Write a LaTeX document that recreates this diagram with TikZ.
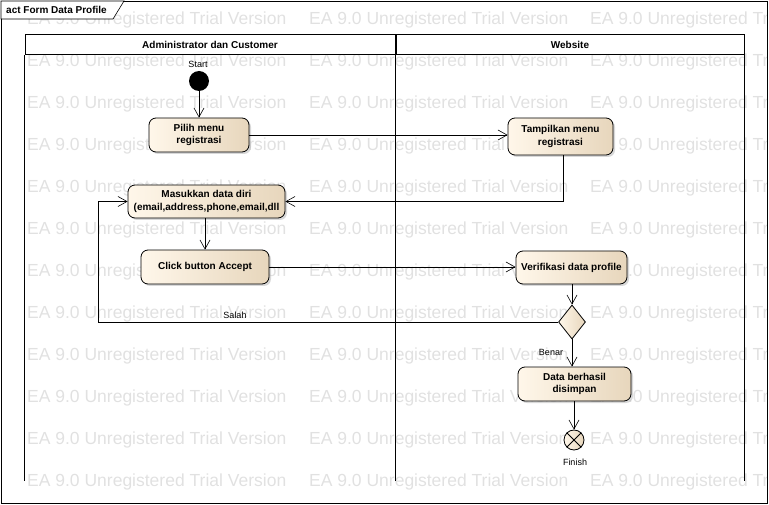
\documentclass[tikz,border=0pt]{standalone}
\usepackage{fontspec}
\setmainfont{Liberation Sans}
\usetikzlibrary{arrows.meta,shapes.geometric,shadows}

\definecolor{actlight}{RGB}{255,247,234}
\definecolor{actdark}{RGB}{231,214,188}
\definecolor{wmgray}{RGB}{225,225,225}

\tikzset{
  action/.style={draw, line width=0.8pt, rounded corners=7pt, align=center,
    inner sep=0pt, font=\fontsize{10}{12.5}\selectfont\bfseries,
    left color=actlight, right color=actdark,
    drop shadow={shadow xshift=2pt, shadow yshift=-2pt, fill=black!30}},
  flow/.style={-{Straight Barb[length=9pt,width=10pt]}, line width=0.6pt},
  lbl/.style={font=\fontsize{9}{10}\selectfont, inner sep=1pt},
  lanehead/.style={draw, line width=1pt, fill=white, inner sep=0pt,
    font=\fontsize{10}{12}\selectfont\bfseries},
  watermark/.style={text=wmgray, anchor=west, inner sep=0pt,
    font=\fontsize{17.5}{20}\selectfont},
}

\begin{document}
\begin{tikzpicture}[x=1pt,y=-1pt]
  \useasboundingbox (0,0) rectangle (769,505);

  % Drawing watermark
  \begin{scope}
    \clip (1,1) rectangle (767,503);
    \foreach \wy in {20,62,...,482}
      \foreach \wx in {27,309,590}
        \node[watermark] (wm-\wx-\wy) at (\wx,\wy) {EA 9.0 Unregistered Trial Version};
  \end{scope}

  % Drawing frame
  \draw [line width=0.8pt] (1,1) rectangle (767,503);
  \draw [line width=0.6pt, fill=white] (1,1) -- (124,1) -- (113,19) -- (1,19) -- cycle;
  \node [anchor=west, inner sep=0pt, font=\fontsize{10}{12}\selectfont\bfseries]
    (title) at (6,10) {act Form Data Profile};

  % Drawing lanes
  \node [lanehead, minimum width=370pt, minimum height=20pt] (admin) at (210,45)
    {Administrator dan Customer};
  \node [lanehead, minimum width=348pt, minimum height=20pt] (web) at (570,45)
    {Website};
  \draw [line width=1pt] (admin.south west) -- ++(0,425);
  \draw [line width=1pt] (web.south west) -- ++(0,425);
  \draw [line width=1pt] (web.south east) -- ++(0,425);

  % Drawing start
  \node [circle, fill=black, minimum size=20pt, inner sep=0pt] (start) at (199,81) {};
  \node [lbl] (startlbl) at (198,64) {Start};

  % Drawing actions
  \node [action, minimum width=100pt, minimum height=34pt] (pilih) at (199,135)
    {Pilih menu\\registrasi};
  \node [action, minimum width=105pt, minimum height=37pt] (tampil) at (560.5,136.5)
    {Tampilkan menu\\registrasi};
  \node [action, minimum width=157pt, minimum height=33pt] (masuk) at (206.5,201.5)
    {Masukkan data diri\\(email,address,phone,email,dll};
  \node [action, minimum width=128pt, minimum height=34pt] (click) at (205,267)
    {Click button Accept};
  \node [action, minimum width=111pt, minimum height=33pt] (verif) at (571.5,267.5)
    {Verifikasi data profile};
  \node [diamond, draw, line width=0.8pt, left color=actlight, right color=actdark,
    minimum width=27pt, minimum height=34pt, inner sep=0pt] (cek) at (572,322) {};
  \node [action, minimum width=113pt, minimum height=34pt] (simpan) at (574.5,384)
    {Data berhasil\\disimpan};

  % Drawing finish
  \node [circle, draw, line width=0.8pt, left color=actlight, right color=actdark,
    minimum size=20pt, inner sep=0pt] (finish) at (574,440) {};
  \draw [line width=0.8pt] (finish.north east) -- (finish.south west);
  \draw [line width=0.8pt] (finish.north west) -- (finish.south east);
  \node [lbl] (finishlbl) at (575,462) {Finish};

  % Drawing flows
  \coordinate (back) at (98,323);
  \draw [flow] (start) -- (pilih);
  \draw [flow] (pilih.east) -- (pilih.east -| tampil.west);
  \draw [flow] (tampil.south -| 563,0) |- (masuk.east);
  \draw [flow] (click.north |- masuk.south) -- (click.north);
  \draw [flow] (click.east) -- (click.east -| verif.west);
  \draw [flow] (cek.north |- verif.south) -- (cek.north);
  \draw [flow] (cek.west) -- (cek.west -| back) |- (masuk.west);
  \draw [flow] (cek.south) -- (cek.south |- simpan.north);
  \draw [flow] (finish.north |- simpan.south) -- (finish.north);

  % Drawing guards
  \node [lbl] (salah) at (235,315) {Salah};
  \node [lbl] (benar) at (551,352) {Benar};
\end{tikzpicture}
\end{document}
